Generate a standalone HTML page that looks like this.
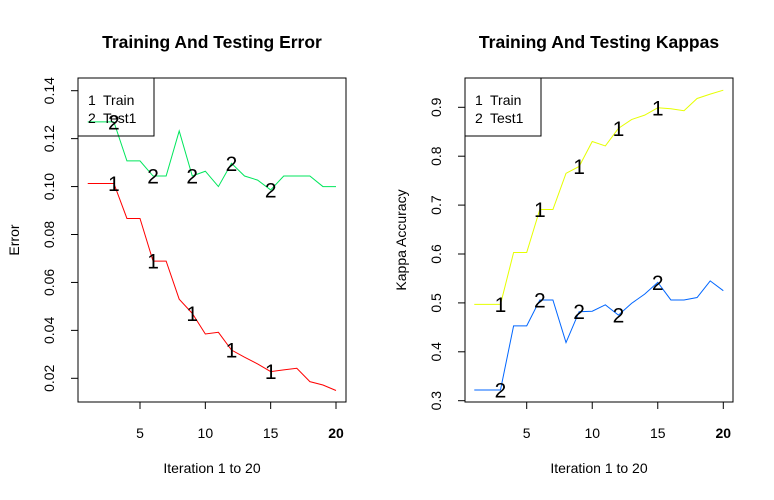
<!DOCTYPE html>
<html><head><meta charset="utf-8"><style>
html,body{margin:0;padding:0;background:#fff}
svg{display:block;font-family:"Liberation Sans",Arial,sans-serif}
</style></head><body>
<svg id="c" width="774" height="500" viewBox="0 0 774 500"></svg>
<script>
const iterations = [1,2,3,4,5,6,7,8,9,10,11,12,13,14,15,16,17,18,19,20];
const errTrain = [0.1013,0.1013,0.1013,0.0867,0.0867,0.0689,0.0689,0.053,0.0471,0.0385,0.0392,0.0318,0.0288,0.026,0.0228,0.0235,0.0242,0.0186,0.0172,0.0149];
const errTest = [0.127,0.127,0.127,0.1107,0.1107,0.1044,0.1044,0.1232,0.1044,0.1064,0.1,0.1097,0.1044,0.1027,0.0986,0.1044,0.1044,0.1044,0.1,0.1];
const kapTrain = [0.497,0.497,0.497,0.603,0.603,0.691,0.691,0.765,0.779,0.83,0.821,0.857,0.875,0.884,0.899,0.897,0.893,0.918,0.927,0.935];
const kapTest = [0.322,0.322,0.322,0.453,0.453,0.506,0.506,0.419,0.482,0.483,0.496,0.475,0.499,0.518,0.542,0.506,0.506,0.511,0.545,0.525];
const xTicks = [5,10,15,20];
const errTicks = [0.02,0.04,0.06,0.08,0.10,0.12,0.14];
const kapTicks = [0.3,0.4,0.5,0.6,0.7,0.8,0.9];
const markIdx = [3,6,9,12,15];

const svg = document.getElementById('c');
const NS = 'http://www.w3.org/2000/svg';
function mk(tag, attrs, parent){const e=document.createElementNS(NS,tag);for(const k in attrs)e.setAttribute(k,attrs[k]);(parent||svg).appendChild(e);return e;}

function panel(o){
  const g = mk('g',{});
  
  
  const xs = v => o.x5 + (v-5)*(o.x20-o.x5)/15;
  const ys = v => o.yA + (v-o.vA)*(o.yB-o.yA)/(o.vB-o.vA);
  const t = mk('text',{x:(o.L+o.R)/2,y:48,'text-anchor':'middle','font-size':'17.5','font-weight':'bold'},g);
  t.textContent = o.title;
  
  
  const box = mk('rect',{x:o.L,y:78,width:o.R-o.L,height:324,fill:'none',stroke:'#000','stroke-width':1},g);
  
  
  xTicks.forEach(v=>{
    const x=xs(v);
    mk('line',{x1:x,x2:x,y1:402,y2:409,stroke:'#000'},g);
    const tt=mk('text',{x:x,y:438,'text-anchor':'middle','font-size':'14','font-weight':v===20?'bold':'normal'},g);
    tt.textContent=v;
    
    
  });
  o.ticks.forEach(v=>{
    const y=ys(v);
    mk('line',{x1:o.L-7,x2:o.L,y1:y,y2:y,stroke:'#000'},g);
    const tt=mk('text',{x:0,y:0,'text-anchor':'middle','font-size':'14',transform:`translate(${o.L-24},${y}) rotate(-90)`},g);
    tt.textContent=o.fmt(v);
    
    
  });
  const xl=mk('text',{x:(o.L+o.R)/2,y:473,'text-anchor':'middle','font-size':'14'},g);
  xl.textContent='Iteration 1 to 20';
  
  
  const yl=mk('text',{x:0,y:0,'text-anchor':'middle','font-size':'14',transform:`translate(${o.L-59},${240}) rotate(-90)`},g);
  yl.textContent=o.ylab;
  
  
  [[o.s1,o.c1,'1'],[o.s2,o.c2,'2']].forEach(([s,c,lab])=>{
    const p=mk('polyline',{points:iterations.map((it,i)=>xs(it)+','+ys(s[i])).join(' '),fill:'none',stroke:c,'stroke-width':1},g);
    
    
    markIdx.forEach(it=>{
      const m=mk('text',{x:xs(it),y:ys(s[it-1])+7.5,'text-anchor':'middle','font-size':'21'},g);
      m.textContent=lab;
      
      
    });
  });
  const lg=mk('g',{},g);
  
  
  mk('rect',{x:o.L,y:78,width:76,height:58,fill:'none',stroke:'#000'},lg);
  [['1','Train'],['2','Test1']].forEach((e,i)=>{
    const a=mk('text',{x:o.L+10,y:105+i*18,'font-size':'14'},lg);a.textContent=e[0];
    
    
    const b=mk('text',{x:o.L+25,y:105+i*18,'font-size':'14'},lg);b.textContent=e[1];
    
    
  });
}
panel({name:'error-panel',title:'Training And Testing Error',L:78,R:346,x5:140,x20:336,yA:90.7,vA:0.14,yB:378.3,vB:0.02,ticks:errTicks,fmt:v=>v.toFixed(2),ylab:'Error',s1:errTrain,s2:errTest,c1:'#ff0000',c2:'#00e65c'});
panel({name:'kappa-panel',title:'Training And Testing Kappas',L:465,R:733,x5:526.7,x20:723.3,yA:107.3,vA:0.9,yB:400.7,vB:0.3,ticks:kapTicks,fmt:v=>v.toFixed(1),ylab:'Kappa Accuracy',s1:kapTrain,s2:kapTest,c1:'#e6ff00',c2:'#0066ff'});
</script>
</body></html>
